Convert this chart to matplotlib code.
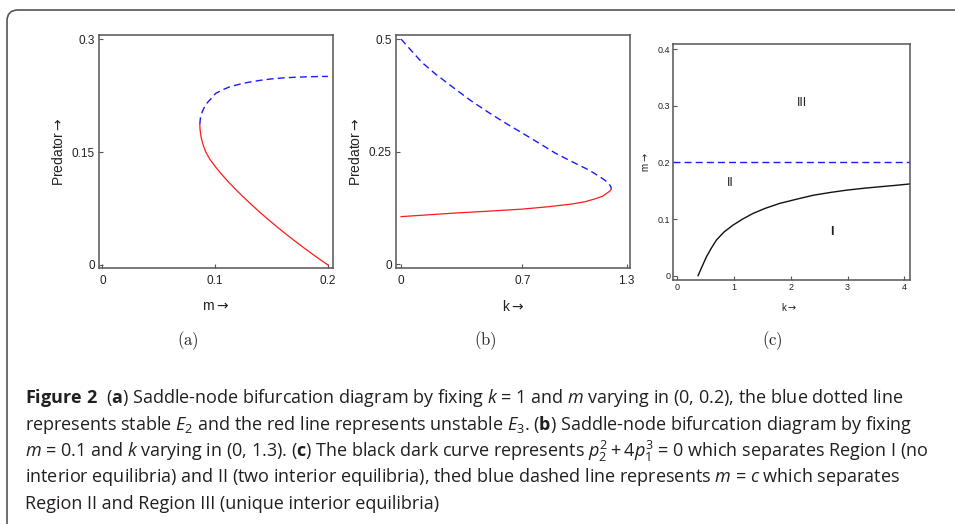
import numpy as np
import matplotlib
matplotlib.use('Agg')
import matplotlib.pyplot as plt
from matplotlib.patches import FancyBboxPatch
from matplotlib.transforms import IdentityTransform

plt.rcParams['font.family'] = ['Liberation Sans', 'DejaVu Sans']
plt.rcParams['mathtext.fontset'] = 'custom'
plt.rcParams['mathtext.rm'] = 'Open Sans'
plt.rcParams['mathtext.it'] = 'Open Sans:italic'
plt.rcParams['mathtext.bf'] = 'Open Sans:bold'

# ---------------- data ----------------
# (a) k = 1, m varying
m_a_stable = [0.0864, 0.0869, 0.0884, 0.0906, 0.0933, 0.0970, 0.1005, 0.107, 0.1135,
              0.124, 0.130, 0.140, 0.150, 0.160, 0.170, 0.180, 0.190, 0.200]
p_a_stable = [0.187, 0.195, 0.203, 0.210, 0.216, 0.222, 0.228, 0.233, 0.237,
              0.241, 0.2428, 0.2453, 0.2472, 0.2485, 0.2493, 0.2499, 0.2503, 0.2505]
m_a_unstable = [0.0864, 0.0866, 0.0875, 0.0892, 0.0917, 0.0955, 0.1005, 0.106, 0.112,
                0.1184, 0.1252, 0.1323, 0.1397, 0.1474, 0.1554, 0.1637, 0.1723,
                0.1812, 0.1904, 0.200]
p_a_unstable = [0.187, 0.18, 0.17, 0.16, 0.15, 0.14, 0.13, 0.12, 0.11,
                0.10, 0.09, 0.08, 0.07, 0.06, 0.05, 0.04, 0.03,
                0.02, 0.01, 0.0]

# (b) m = 0.1, k varying
k_b_stable = [0.0, 0.06, 0.121, 0.2, 0.313, 0.4, 0.505, 0.6, 0.697, 0.8, 0.889,
              0.98, 1.08, 1.14, 1.178, 1.2, 1.21, 1.212]
p_b_stable = [0.5, 0.474, 0.448, 0.422, 0.389, 0.364, 0.337, 0.314, 0.292, 0.268, 0.247,
              0.229, 0.210, 0.196, 0.186, 0.178, 0.172, 0.167]
k_b_unstable = [0.0, 0.313, 0.5, 0.697, 0.85, 0.986, 1.06, 1.12, 1.16, 1.187, 1.205, 1.212]
p_b_unstable = [0.106, 0.114, 0.118, 0.1226, 0.128, 0.134, 0.139, 0.1456, 0.151, 0.158, 0.163, 0.167]

# (c) region boundaries in the (k, m) plane
k_c = [0.364, 0.42, 0.512, 0.6, 0.688, 0.82, 0.982, 1.15, 1.335, 1.55, 1.806,
       2.1, 2.394, 2.7, 2.983, 3.3, 3.57, 3.85, 4.1]
m_c = [0.0, 0.013, 0.0335, 0.049, 0.063, 0.077, 0.0894, 0.100, 0.110, 0.119, 0.1277,
       0.135, 0.142, 0.147, 0.151, 0.1545, 0.157, 0.1595, 0.162]
m_threshold = 0.2
region_names = ['I', 'II', 'III']
region_k = [2.72, 0.94, 2.2]
region_m = [0.078, 0.163, 0.304]

caption_lines = [
    r"$\mathbf{Figure\ 2}$  ($\mathbf{a}$) Saddle-node bifurcation diagram by fixing $k$ = 1 and $m$ varying in (0, 0.2), the blue dotted line",
    r"represents stable $E_2$ and the red line represents unstable $E_3$. ($\mathbf{b}$) Saddle-node bifurcation diagram by fixing",
    r"$m$ = 0.1 and $k$ varying in (0, 1.3). ($\mathbf{c}$) The black dark curve represents $p_2^2+4p_1^3$ = 0 which separates Region I (no",
    r"interior equilibria) and II (two interior equilibria), thed blue dashed line represents $m$ = $c$ which separates",
    r"Region II and Region III (unique interior equilibria)",
]

W, H = 955, 524
fig = plt.figure(figsize=(W / 100, H / 100), dpi=100)

# rounded frame, open to the right and bottom (runs off the image)
frame = FancyBboxPatch((7, -40), 1000, H - 10 + 40, transform=IdentityTransform(),
                       boxstyle='round,pad=0,rounding_size=11', fill=False,
                       edgecolor='#555555', lw=1.2, clip_on=False)
fig.patches.append(frame)


def add_ax(left, top, right, bottom):
    return fig.add_axes([left / W, 1 - bottom / H, (right - left) / W, (bottom - top) / H])


def style(ax, fs, pad_x, pad_y):
    for s in ax.spines.values():
        s.set_color('#555555')
        s.set_linewidth(1.1)
    ax.tick_params(direction='in', length=3, width=0.8, color='#555555',
                   labelsize=fs, labelcolor='#222222')
    ax.tick_params(axis='x', pad=pad_x)
    ax.tick_params(axis='y', pad=pad_y)


def arrow_label(name):
    return name + r'$\rightarrow$'


dash = (0, (5, 3))
lab_kw = dict(color='#222222', math_fontfamily='dejavusans')

# ---- (a) ----
ax1 = add_ax(99, 35, 333, 268)
ax1.plot(m_a_stable, p_a_stable, color='#1a1aff', lw=1.0, ls=dash)
ax1.plot(m_a_unstable, p_a_unstable, color='#ff1a1a', lw=0.9)
ax1.set_xlim(-0.003, 0.2045)
ax1.set_ylim(-0.004, 0.3055)
ax1.set_xticks([0, 0.1, 0.2], ['0', '0.1', '0.2'])
ax1.set_yticks([0, 0.15, 0.3], ['0', '0.15', '0.3'])
style(ax1, 8.5, 5, 3)
ax1.set_xlabel(arrow_label('m'), fontsize=10, **lab_kw)
ax1.set_ylabel(arrow_label('Predator'), fontsize=10, **lab_kw)
ax1.xaxis.set_label_coords(0.5, -0.133)
ax1.yaxis.set_label_coords(-0.141, 0.5)

# ---- (b) ----
ax2 = add_ax(396, 35, 630, 268)
ax2.plot(k_b_stable, p_b_stable, color='#1a1aff', lw=1.0, ls=dash)
ax2.plot(k_b_unstable, p_b_unstable, color='#ff1a1a', lw=0.9)
ax2.set_xlim(-0.029, 1.32)
ax2.set_ylim(-0.008, 0.509)
ax2.set_xticks([0, 0.7, 1.3], ['0', '0.7', '1.3'])
ax2.set_yticks([0, 0.25, 0.5], ['0', '0.25', '0.5'])
style(ax2, 8.5, 5, 3)
ax2.set_xlabel(arrow_label('k'), fontsize=10, **lab_kw)
ax2.set_ylabel(arrow_label('Predator'), fontsize=10, **lab_kw)
ax2.xaxis.set_label_coords(0.5, -0.133)
ax2.yaxis.set_label_coords(-0.141, 0.5)

# ---- (c) ----
ax3 = add_ax(673, 44, 910, 280)
ax3.axhline(m_threshold, color='#1a1aff', lw=1.0, ls=dash)
ax3.plot(k_c, m_c, color='#111111', lw=1.0)
for name, kk, mm in zip(region_names, region_k, region_m):
    ax3.text(kk, mm, name, fontsize=9, ha='center', va='center', color='#222222',
             fontweight='bold' if name == 'I' else 'normal')
ax3.set_xlim(-0.078, 4.1)
ax3.set_ylim(-0.0076, 0.409)
ax3.set_xticks([0, 1, 2, 3, 4])
ax3.set_yticks([0, 0.1, 0.2, 0.3, 0.4], ['0', '0.1', '0.2', '0.3', '0.4'])
style(ax3, 6.5, 2, 2)
ax3.set_xlabel(arrow_label('k'), fontsize=7, **lab_kw)
ax3.set_ylabel(arrow_label('m'), fontsize=7, **lab_kw)
ax3.xaxis.set_label_coords(0.49, -0.089)
ax3.yaxis.set_label_coords(-0.093, 0.5)

# sub-figure tags
for tag, x in zip(['a', 'b', 'c'], [188, 485, 772]):
    fig.text(x / W, 1 - 341 / H, r'$\mathrm{(' + tag + ')}$', math_fontfamily='cm',
             fontsize=12, ha='center', va='center', color='#222222')

# caption
for i, line in enumerate(caption_lines):
    fig.text(25 / W, 1 - (398 + 26.5 * i) / H, line, fontsize=13, family='Open Sans',
             ha='left', va='center', color='#231f20')

fig.savefig('out.png', dpi=100)
